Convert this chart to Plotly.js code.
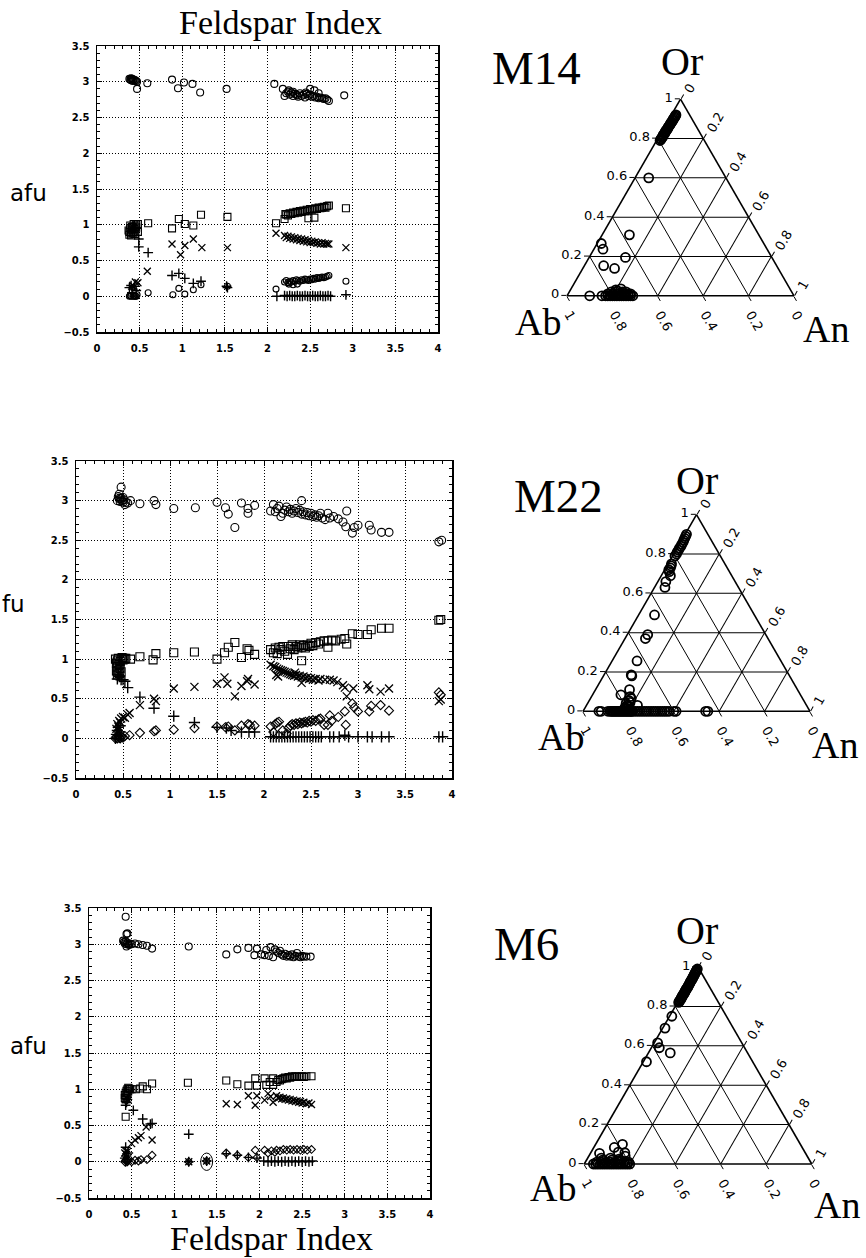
<!DOCTYPE html>
<html>
<head>
<meta charset="utf-8">
<script src="https://cdn.plot.ly/plotly-3.0.1.min.js"></script>
<style>html,body{margin:0;padding:0;background:#fff;}#chart{width:866px;height:1258px;}</style>
</head>
<body>
<div id="chart"></div>
<script>
// ---------------- DATA: Feldspar Index vs afu (pairs [feldsparIndex, afu]) ----------------
// Sample M14
const m14_si = [[0.38,3.04],[0.39,3.03],[0.40,3.05],[0.40,3.02],[0.41,3.04],[0.42,3.03],[0.42,3.01],[0.43,3.03],[0.44,3.02],[0.45,3.02],[0.46,3.01],[0.47,3.00],
 [0.47,2.90],[0.59,2.98],[0.88,3.03],[0.95,2.91],[1.02,2.99],[1.12,2.97],[1.21,2.85],[1.52,2.90],[2.08,2.97],[2.18,2.90],[2.20,2.80],[2.22,2.84],[2.24,2.86],[2.26,2.82],[2.28,2.85],[2.30,2.80],[2.32,2.83],[2.34,2.82],[2.36,2.79],[2.38,2.84],[2.40,2.80],[2.42,2.82],[2.44,2.78],[2.46,2.83],[2.48,2.80],[2.50,2.82],[2.52,2.79],[2.54,2.80],[2.56,2.78],[2.58,2.79],[2.60,2.77],[2.62,2.78],[2.64,2.77],[2.66,2.76],[2.68,2.77],[2.70,2.75],[2.72,2.73],[2.25,2.88],[2.30,2.86],[2.35,2.81],[2.45,2.85],[2.50,2.90],[2.55,2.88],[2.60,2.84],[2.90,2.81]];
const m14_al = [[0.37,0.92],[0.38,0.90],[0.39,0.95],[0.40,0.88],[0.41,0.93],[0.42,0.97],[0.43,0.90],[0.44,0.94],[0.45,0.98],[0.46,0.96],[0.38,0.86],[0.40,0.85],[0.42,0.88],[0.44,0.87],[0.46,1.00],[0.39,0.99],[0.41,0.97],[0.43,1.01],[0.45,0.92],[0.48,1.01],[0.48,0.90],
 [0.60,1.02],[0.88,0.95],[0.96,1.08],[1.03,1.01],[1.13,0.99],[1.22,1.14],[1.53,1.11],[2.10,1.02],[2.20,1.08],[2.21,1.15],[2.22,1.14],[2.24,1.13],[2.26,1.16],[2.28,1.15],[2.30,1.17],[2.32,1.16],[2.34,1.18],[2.36,1.17],[2.38,1.19],[2.40,1.18],[2.42,1.20],[2.44,1.19],[2.46,1.21],[2.48,1.20],[2.50,1.22],[2.52,1.21],[2.54,1.22],[2.56,1.23],[2.58,1.22],[2.60,1.24],[2.62,1.23],[2.64,1.24],[2.66,1.25],[2.68,1.24],[2.70,1.26],[2.72,1.27],[2.48,1.09],[2.55,1.10],[2.92,1.23]];
const m14_na = [[0.42,0.15],[0.45,0.20],[0.48,0.19],[0.59,0.35],[0.88,0.73],[0.98,0.58],[1.03,0.71],[1.13,0.80],[1.23,0.68],[1.53,0.68],[2.10,0.88],
 [2.20,0.85],[2.22,0.82],[2.24,0.84],[2.26,0.81],[2.28,0.83],[2.30,0.80],[2.32,0.82],[2.34,0.79],[2.36,0.81],[2.38,0.78],[2.40,0.80],[2.42,0.77],[2.44,0.79],[2.46,0.76],[2.48,0.78],[2.50,0.75],[2.52,0.77],[2.54,0.75],[2.56,0.76],[2.58,0.74],[2.60,0.75],[2.62,0.73],[2.64,0.75],[2.66,0.73],[2.68,0.74],[2.70,0.73],[2.72,0.73],[2.92,0.68]];
const m14_ca = [[0.38,0.12],[0.40,0.15],[0.42,0.10],[0.44,0.14],[0.46,0.08],[0.41,0.05],[0.49,0.80],[0.49,0.69],[0.60,0.61],[0.88,0.29],[0.96,0.32],[1.03,0.25],[1.13,0.18],[1.22,0.21],[1.52,0.14],[1.53,0.12],
 [2.11,0.00],[2.20,0.01],[2.23,0.00],[2.26,0.01],[2.29,0.00],[2.32,0.00],[2.35,0.01],[2.38,0.00],[2.41,0.00],[2.44,0.01],[2.47,0.00],[2.50,0.00],[2.53,0.01],[2.56,0.00],[2.59,0.00],[2.62,0.01],[2.65,0.00],[2.68,0.00],[2.71,0.01],[2.74,0.00],[2.92,0.02]];
const m14_k = [[0.38,0.00],[0.40,0.00],[0.42,0.00],[0.44,0.00],[0.46,0.00],[0.39,0.01],[0.43,0.01],[0.45,0.00],[0.47,0.02],[0.60,0.05],[0.89,0.02],[0.96,0.11],[1.03,0.03],[1.13,0.09],[1.22,0.16],[1.53,0.14],[2.10,0.10],
 [2.20,0.20],[2.22,0.22],[2.24,0.19],[2.26,0.21],[2.28,0.20],[2.30,0.22],[2.32,0.21],[2.34,0.23],[2.36,0.22],[2.38,0.21],[2.40,0.23],[2.42,0.22],[2.44,0.24],[2.46,0.23],[2.48,0.22],[2.50,0.24],[2.52,0.23],[2.54,0.25],[2.56,0.24],[2.58,0.26],[2.60,0.25],[2.62,0.26],[2.64,0.27],[2.66,0.26],[2.68,0.27],[2.70,0.28],[2.72,0.29],[2.25,0.17],[2.30,0.16],[2.35,0.17],[2.92,0.21]];

// Sample M22
const m22_si = [[0.48,3.17],[0.45,3.05],[0.46,3.08],[0.47,3.02],[0.44,3.00],[0.48,3.03],[0.49,3.00],[0.50,2.98],[0.51,3.01],[0.52,2.95],[0.53,2.98],[0.47,2.99],[0.46,3.03],[0.50,3.04],[0.55,2.97],
 [0.58,3.00],[0.68,2.96],[0.83,3.00],[0.85,2.95],[1.04,2.90],[1.27,2.91],[1.50,2.98],[1.59,2.91],[1.62,2.83],[1.69,2.66],[1.76,2.97],[1.83,2.90],[1.83,2.84],[1.90,2.94],
 [2.07,2.87],[2.10,2.95],[2.12,2.86],[2.14,2.90],[2.16,2.93],[2.18,2.80],[2.20,2.84],[2.22,2.88],[2.24,2.92],[2.26,2.86],[2.28,2.89],[2.30,2.84],[2.32,2.87],[2.34,2.90],[2.36,2.85],[2.38,2.88],[2.40,3.00],[2.40,2.83],[2.42,2.86],[2.44,2.82],[2.46,2.85],[2.48,2.81],[2.50,2.84],[2.52,2.80],[2.54,2.82],[2.56,2.79],[2.58,2.81],[2.60,2.84],[2.62,2.78],[2.65,2.76],[2.68,2.84],[2.70,2.78],[2.74,2.80],[2.79,2.77],[2.84,2.73],[2.87,2.67],[2.88,2.87],[2.94,2.59],[2.96,2.66],[3.00,2.69],[3.12,2.69],[3.14,2.63],[3.25,2.60],[3.33,2.60],[3.86,2.48],[3.89,2.50]];
const m22_al = [[0.42,1.00],[0.43,0.95],[0.44,0.98],[0.45,1.01],[0.46,0.93],[0.47,0.97],[0.48,1.00],[0.49,1.02],[0.50,0.99],[0.51,1.01],[0.52,1.00],[0.53,1.01],[0.44,0.90],[0.45,0.86],[0.46,0.82],[0.47,0.88],[0.43,0.85],[0.44,0.80],[0.48,0.84],[0.58,1.00],
 [0.68,1.03],[0.82,0.99],[0.85,1.07],[1.04,1.08],[1.26,1.09],[1.50,1.00],[1.58,1.08],[1.62,1.15],[1.69,1.21],[1.76,1.02],[1.82,1.13],[1.84,1.11],[1.90,1.06],
 [2.07,1.12],[2.10,1.08],[2.12,1.14],[2.14,1.07],[2.16,1.15],[2.18,1.12],[2.20,1.16],[2.22,1.10],[2.25,1.06],[2.26,1.16],[2.28,1.13],[2.30,1.18],[2.32,1.12],[2.34,1.16],[2.36,1.14],[2.38,1.18],[2.40,0.98],[2.40,1.15],[2.42,1.17],[2.44,1.14],[2.46,1.18],[2.48,1.16],[2.50,1.20],[2.52,1.17],[2.55,1.21],[2.58,1.19],[2.60,1.22],[2.64,1.23],[2.68,1.15],[2.68,1.23],[2.72,1.24],[2.76,1.23],[2.82,1.25],[2.86,1.26],[2.88,1.19],[2.94,1.32],[3.00,1.31],[3.10,1.31],[3.14,1.37],[3.25,1.39],[3.33,1.39],[3.86,1.49],[3.88,1.50]];
const m22_na = [[0.43,0.12],[0.44,0.18],[0.45,0.15],[0.46,0.22],[0.47,0.20],[0.48,0.25],[0.50,0.27],[0.52,0.26],[0.55,0.30],[0.57,0.32],[0.68,0.42],[0.83,0.50],[0.85,0.47],[1.04,0.63],[1.26,0.65],[1.50,0.69],[1.58,0.77],[1.61,0.69],[1.69,0.53],[1.76,0.66],[1.83,0.75],[1.82,0.72],[1.90,0.68],
 [2.07,0.93],[2.10,0.91],[2.12,0.90],[2.13,0.80],[2.14,0.88],[2.15,0.78],[2.16,0.87],[2.18,0.86],[2.20,0.85],[2.22,0.84],[2.24,0.83],[2.26,0.82],[2.28,0.81],[2.30,0.80],[2.32,0.79],[2.33,0.83],[2.34,0.80],[2.36,0.78],[2.38,0.79],[2.40,0.70],[2.40,0.77],[2.42,0.78],[2.44,0.76],[2.46,0.77],[2.48,0.75],[2.50,0.76],[2.52,0.74],[2.55,0.75],[2.58,0.73],[2.60,0.75],[2.65,0.74],[2.70,0.74],[2.74,0.73],[2.78,0.71],[2.84,0.67],[2.86,0.64],[2.88,0.53],[2.95,0.63],[3.10,0.67],[3.12,0.62],[3.24,0.59],[3.33,0.63],[3.86,0.47],[3.88,0.49]];
const m22_ca = [[0.42,0.00],[0.43,0.05],[0.44,0.10],[0.45,0.14],[0.46,0.08],[0.47,0.16],[0.48,0.03],[0.44,0.75],[0.45,0.80],[0.46,0.78],[0.48,0.74],[0.50,0.74],[0.52,0.72],[0.55,0.64],
 [0.68,0.52],[0.83,0.38],[1.04,0.28],[1.26,0.20],[1.50,0.14],[1.60,0.13],[1.65,0.10],[1.76,0.08],[1.84,0.08],[1.90,0.08],
 [2.07,0.02],[2.10,0.02],[2.13,0.02],[2.16,0.02],[2.19,0.02],[2.22,0.02],[2.25,0.02],[2.28,0.02],[2.31,0.02],[2.34,0.02],[2.37,0.02],[2.40,0.02],[2.43,0.02],[2.46,0.02],[2.49,0.02],[2.52,0.02],[2.55,0.02],[2.58,0.02],[2.61,0.02],[2.70,0.02],[2.74,0.02],[2.80,0.02],[2.86,0.04],[2.90,0.02],[3.00,0.02],[3.10,0.02],[3.15,0.02],[3.25,0.02],[3.33,0.02],[3.86,0.02],[3.90,0.02]];
const m22_k = [[0.42,0.00],[0.43,0.02],[0.44,0.00],[0.45,0.03],[0.46,0.01],[0.47,0.00],[0.48,0.02],[0.50,0.01],[0.52,0.03],[0.57,0.04],
 [0.68,0.07],[0.83,0.09],[0.85,0.10],[1.04,0.11],[1.26,0.13],[1.50,0.15],[1.59,0.14],[1.62,0.15],[1.69,0.10],[1.76,0.16],[1.83,0.18],[1.85,0.17],[1.90,0.16],
 [2.07,0.15],[2.10,0.08],[2.12,0.18],[2.14,0.20],[2.16,0.21],[2.20,0.10],[2.24,0.06],[2.26,0.13],[2.28,0.16],[2.30,0.18],[2.32,0.17],[2.34,0.19],[2.36,0.18],[2.38,0.20],[2.40,0.19],[2.42,0.20],[2.44,0.21],[2.46,0.20],[2.48,0.22],[2.50,0.21],[2.52,0.23],[2.55,0.22],[2.58,0.24],[2.60,0.25],[2.64,0.17],[2.68,0.17],[2.70,0.29],[2.72,0.22],[2.79,0.27],[2.86,0.34],[2.87,0.17],[2.94,0.44],[2.96,0.39],[3.00,0.34],[3.12,0.34],[3.14,0.41],[3.24,0.42],[3.33,0.35],[3.86,0.58],[3.88,0.55]];

// Sample M6
const m6_si = [[0.43,3.38],[0.44,3.14],[0.45,3.15],[0.40,3.05],[0.41,3.03],[0.42,3.01],[0.43,3.04],[0.44,3.00],[0.45,3.02],[0.46,3.00],[0.47,2.99],[0.48,3.01],[0.44,2.97],[0.50,3.00],[0.54,3.01],[0.58,3.00],[0.63,2.99],[0.68,2.98],[0.74,2.94],
 [1.17,2.97],[1.61,2.86],[1.74,2.93],[1.87,2.95],[1.94,2.85],[1.97,2.94],[2.02,2.86],[2.06,2.85],[2.08,2.92],[2.11,2.84],[2.13,2.96],[2.16,2.82],[2.18,2.93],[2.20,2.90],[2.22,2.88],[2.24,2.91],[2.26,2.86],[2.28,2.84],[2.30,2.87],[2.32,2.83],[2.34,2.85],[2.36,2.83],[2.38,2.86],[2.40,2.82],[2.42,2.84],[2.44,2.88],[2.46,2.83],[2.48,2.82],[2.50,2.84],[2.52,2.83],[2.55,2.83],[2.60,2.83]];
const m6_al = [[0.42,0.92],[0.43,0.95],[0.44,0.98],[0.45,1.00],[0.46,0.97],[0.47,1.01],[0.48,1.00],[0.42,0.88],[0.43,0.86],[0.44,0.90],[0.45,0.94],[0.46,1.02],[0.50,1.00],[0.43,0.62],[0.55,1.00],[0.60,1.01],[0.63,1.04],[0.68,1.00],[0.74,1.08],
 [1.16,1.09],[1.61,1.12],[1.74,1.07],[1.87,1.05],[1.95,1.15],[1.97,1.05],[2.06,1.15],[2.08,1.06],[2.12,1.10],[2.16,1.15],[2.16,1.06],[2.20,1.10],[2.22,1.13],[2.24,1.12],[2.26,1.14],[2.28,1.15],[2.30,1.16],[2.32,1.15],[2.34,1.17],[2.36,1.16],[2.38,1.18],[2.40,1.17],[2.42,1.18],[2.44,1.17],[2.46,1.18],[2.48,1.17],[2.50,1.18],[2.52,1.17],[2.55,1.18],[2.61,1.18]];
const m6_na = [[0.42,0.12],[0.43,0.15],[0.44,0.10],[0.45,0.14],[0.44,0.88],[0.46,0.85],[0.50,0.25],[0.54,0.30],[0.58,0.33],[0.61,0.36],[0.67,0.48],[0.74,0.30],[1.17,0.00],[1.38,0.01],
 [1.61,0.80],[1.74,0.79],[1.87,0.91],[1.95,0.78],[1.97,0.91],[2.06,0.85],[2.10,0.94],[2.13,0.90],[2.16,0.82],[2.20,0.91],[2.22,0.88],[2.24,0.89],[2.26,0.87],[2.28,0.88],[2.30,0.86],[2.32,0.87],[2.34,0.85],[2.36,0.86],[2.38,0.84],[2.40,0.85],[2.42,0.83],[2.44,0.84],[2.46,0.82],[2.48,0.83],[2.50,0.81],[2.52,0.82],[2.55,0.80],[2.58,0.81],[2.61,0.79]];
const m6_ca = [[0.42,0.05],[0.43,0.00],[0.44,0.08],[0.45,0.03],[0.46,0.12],[0.43,0.20],[0.43,0.78],[0.44,0.82],[0.45,0.86],[0.52,0.71],[0.63,0.59],[0.72,0.52],[0.74,0.53],[1.17,0.38],[1.17,0.00],[1.38,0.01],
 [1.61,0.11],[1.74,0.09],[1.87,0.06],[1.97,0.05],[2.05,0.01],[2.10,0.00],[2.14,0.01],[2.18,0.00],[2.22,0.01],[2.26,0.00],[2.30,0.01],[2.34,0.00],[2.38,0.01],[2.42,0.00],[2.46,0.01],[2.50,0.00],[2.54,0.01],[2.58,0.00],[2.62,0.01]];
const m6_k = [[0.42,0.00],[0.43,0.02],[0.44,0.01],[0.45,0.00],[0.46,0.02],[0.50,0.00],[0.54,0.02],[0.58,0.01],[0.61,0.03],[0.68,0.03],[0.74,0.09],[1.17,0.00],[1.38,0.01],
 [1.61,0.12],[1.74,0.09],[1.87,0.06],[1.95,0.16],[1.97,0.06],[2.06,0.16],[2.10,0.12],[2.14,0.15],[2.18,0.13],[2.20,0.16],[2.24,0.15],[2.28,0.17],[2.32,0.16],[2.36,0.17],[2.40,0.16],[2.44,0.17],[2.48,0.16],[2.52,0.17],[2.56,0.16],[2.61,0.17]];
const m6_highlight = [[1.38, 0.0]];   // hand-circled analysis

// ---------------- DATA: ternary Or-Ab-An (pairs [Or, An]; Ab = remainder) ----------------
const m14_tern = [[0.79,0.015],[0.795,0.016],[0.80,0.015],[0.805,0.017],[0.81,0.016],[0.815,0.016],[0.82,0.015],[0.825,0.017],[0.83,0.017],[0.835,0.016],[0.84,0.016],[0.845,0.018],[0.85,0.018],[0.855,0.017],[0.86,0.017],[0.865,0.018],[0.87,0.019],[0.875,0.018],[0.88,0.018],[0.885,0.019],[0.89,0.02],[0.895,0.019],[0.90,0.019],[0.905,0.02],[0.91,0.02],[0.915,0.02],[0.92,0.02],
 [0.60,0.06],[0.31,0.12],[0.266,0.018],[0.237,0.04],[0.195,0.16],[0.153,0.085],[0.139,0.14],[0.0,0.10],[0.0,0.154],
 [0.0,0.17],[0.01,0.175],[0.0,0.18],[0.02,0.185],[0.0,0.19],[0.01,0.195],[0.0,0.2],[0.02,0.205],[0.0,0.21],[0.01,0.215],[0.0,0.22],[0.01,0.225],[0.0,0.23],[0.02,0.235],[0.0,0.24],[0.01,0.245],[0.0,0.25],[0.01,0.255],[0.0,0.26],[0.01,0.265],[0.0,0.27],[0.01,0.275],[0.0,0.28],[0.0,0.29],[0.03,0.20],[0.035,0.22],[0.025,0.21],[0.02,0.25]];
const m22_tern = [[0.79,0.01],[0.80,0.012],[0.81,0.01],[0.82,0.011],[0.83,0.01],[0.84,0.012],[0.85,0.01],[0.86,0.011],[0.87,0.009],[0.88,0.008],[0.89,0.007],[0.90,0.006],
 [0.75,0.015],[0.74,0.018],[0.73,0.02],[0.72,0.018],[0.71,0.025],[0.69,0.04],[0.66,0.035],[0.63,0.046],[0.49,0.07],[0.39,0.09],[0.37,0.09],[0.256,0.11],[0.185,0.12],[0.18,0.125],[0.11,0.15],[0.084,0.125],
 [0.075,0.17],[0.065,0.18],[0.055,0.175],[0.045,0.185],[0.04,0.17],[0.03,0.18],[0.025,0.19],[0.02,0.175],[0.015,0.185],[0.01,0.18],[0.03,0.225],
 [0.0,0.07],[0.0,0.08],[0.0,0.11],[0.0,0.12],[0.0,0.125],[0.0,0.13],[0.0,0.135],[0.0,0.14],[0.0,0.145],[0.0,0.15],[0.0,0.155],[0.0,0.16],[0.0,0.165],[0.0,0.17],[0.0,0.175],[0.0,0.18],[0.0,0.185],[0.0,0.19],[0.0,0.195],[0.0,0.2],[0.0,0.205],[0.0,0.21],[0.0,0.215],[0.0,0.22],[0.0,0.23],[0.0,0.24],[0.0,0.25],[0.0,0.26],[0.0,0.27],[0.0,0.28],[0.0,0.29],[0.0,0.30],[0.0,0.31],[0.0,0.32],[0.0,0.33],[0.0,0.34],[0.0,0.35],[0.0,0.36],[0.0,0.37],[0.0,0.38],[0.0,0.40],[0.0,0.41],[0.0,0.54],[0.0,0.55]];
const m6_tern = [[0.82,0.005],[0.825,0.005],[0.83,0.005],[0.835,0.006],[0.84,0.006],[0.845,0.005],[0.85,0.005],[0.855,0.005],[0.86,0.005],[0.865,0.006],[0.87,0.006],[0.875,0.005],[0.88,0.005],[0.885,0.005],[0.89,0.005],[0.895,0.006],[0.90,0.006],[0.905,0.005],[0.91,0.005],[0.915,0.005],[0.92,0.005],[0.925,0.004],[0.93,0.004],[0.935,0.005],[0.94,0.005],[0.945,0.004],[0.95,0.004],[0.955,0.004],[0.96,0.004],[0.965,0.003],[0.97,0.003],[0.975,0.003],[0.98,0.003],[0.985,0.002],[0.99,0.002],
 [0.75,0.01],[0.69,0.01],[0.615,0.015],[0.59,0.035],[0.564,0.096],[0.519,0.014],
 [0.084,0.09],[0.10,0.118],[0.057,0.15],[0.054,0.04],[0.06,0.12],[0.04,0.16],
 [0.0,0.04],[0.01,0.05],[0.0,0.06],[0.02,0.07],[0.0,0.08],[0.01,0.09],[0.0,0.10],[0.02,0.11],[0.0,0.12],[0.01,0.13],[0.0,0.14],[0.02,0.15],[0.0,0.16],[0.01,0.17],[0.0,0.18],[0.01,0.19],[0.0,0.20],[0.03,0.06],[0.03,0.10],[0.025,0.14],[0.0,0.05],[0.0,0.07],[0.0,0.09],[0.0,0.11],[0.0,0.13],[0.0,0.15],[0.0,0.17],[0.0,0.19],[0.01,0.07],[0.01,0.11],[0.01,0.15]];

// ---------------- TEXT ----------------
const sampleNames = ['M14', 'M22', 'M6'];
const endMembers = {a: 'Or', b: 'Ab', c: 'An'};
const xTitle = 'Feldspar Index';

// ---------------- BUILD ----------------
const W = 866, H = 1258;
const px = v => v / W;
const py = v => 1 - v / H;

function markers(pairs, symbol, size, xa, ya, lw) {
  return {type: 'scatter', mode: 'markers', x: pairs.map(p => p[0]), y: pairs.map(p => p[1]),
    xaxis: xa, yaxis: ya, cliponaxis: false, hoverinfo: 'skip', showlegend: false,
    marker: {symbol: symbol, size: size, color: 'black', line: {color: 'black', width: lw || 1.1}}};
}
function ternPts(pairs, sub) {
  return {type: 'scatterternary', mode: 'markers', subplot: sub, a: pairs.map(p => p[0]), c: pairs.map(p => p[1]),
    b: pairs.map(p => 1 - p[0] - p[1]), cliponaxis: false, hoverinfo: 'skip', showlegend: false,
    marker: {symbol: 'circle-open', size: 9, color: 'black', line: {color: 'black', width: 1.8}}};
}

const panels = [
  {si: m14_si, al: m14_al, na: m14_na, ca: m14_ca, k: m14_k, kSym: 'circle-open', xa: 'x', ya: 'y', ms: 7},
  {si: m22_si, al: m22_al, na: m22_na, ca: m22_ca, k: m22_k, kSym: 'diamond-open', xa: 'x2', ya: 'y2', ms: 8},
  {si: m6_si, al: m6_al, na: m6_na, ca: m6_ca, k: m6_k, kSym: 'diamond-open', xa: 'x3', ya: 'y3', ms: 7}
];
const traces = [];
panels.forEach(p => {
  traces.push(markers(p.si, 'circle-open', p.ms, p.xa, p.ya));
  traces.push(markers(p.al, 'square-open', p.ms, p.xa, p.ya));
  traces.push(markers(p.na, 'x-thin-open', p.ms, p.xa, p.ya, 1.3));
  traces.push(markers(p.ca, 'cross-thin-open', p.ms, p.xa, p.ya, 1.4));
  traces.push(markers(p.k, p.kSym, p.ms - 1, p.xa, p.ya));
});
traces.push(ternPts(m14_tern, 'ternary'));
traces.push(ternPts(m22_tern, 'ternary2'));
traces.push(ternPts(m6_tern, 'ternary3'));

const tickFont = {family: 'DejaVu Sans, sans-serif', size: 10, color: 'black', weight: 'bold'};
function xax(domain, anchor) {
  return {domain: domain, anchor: anchor, range: [0, 4], tick0: 0, dtick: 0.5, showgrid: true, gridcolor: 'black',
    griddash: '1px,2px', gridwidth: 1, zeroline: false, showline: true, linecolor: 'black', linewidth: 1.5, mirror: 'ticks',
    ticks: 'inside', ticklen: 5, tickcolor: 'black', tickwidth: 1, tickfont: tickFont, ticklabelstandoff: 6,
    minor: {ticks: 'inside', ticklen: 3, dtick: 0.1, tickcolor: 'black', tickwidth: 1, showgrid: false}};
}
function yax(domain, anchor) {
  const a = xax(domain, anchor);
  a.range = [-0.5, 3.5];
  a.ticklabelstandoff = 4;
  return a;
}
function ternAxis(angle) {
  return {title: {text: ''}, min: 0, tick0: 0, dtick: 0.2, showline: true, linecolor: 'black', linewidth: 1.6,
    showgrid: true, gridcolor: 'black', gridwidth: 1, ticks: 'outside', ticklen: 5, tickcolor: 'black', tickwidth: 1,
    tickfont: {family: 'DejaVu Sans, sans-serif', size: 13, color: 'black'}, tickangle: angle, layer: 'below traces'};
}
function tern(x0, x1, yTop, yBot) {
  return {domain: {x: [px(x0), px(x1)], y: [py(yBot), py(yTop)]}, sum: 1, bgcolor: 'white',
    aaxis: ternAxis(0), baxis: ternAxis(60), caxis: ternAxis(-60)};
}

const serif = 'Liberation Serif, Times New Roman, serif';
function ann(text, x, y, size, family, xanchor) {
  return {text: text, x: px(x), y: py(y), xref: 'paper', yref: 'paper', showarrow: false,
    xanchor: xanchor || 'center', yanchor: 'middle', font: {family: family, size: size, color: 'black'}};
}
const sans = 'DejaVu Sans, sans-serif';
const annotations = [
  ann(xTitle, 280, 22, 34, serif),
  ann(xTitle, 271, 1238, 34, serif),
  ann('afu', 28, 193, 23, sans),
  ann('fu', 0, 604, 23, sans, 'left'),
  ann('afu', 28, 1046, 23, sans),
  ann(sampleNames[0], 536, 68, 47, serif),
  ann(sampleNames[1], 558, 496, 47, serif),
  ann(sampleNames[2], 526, 944, 47, serif),
  ann(endMembers.a, 682, 61, 40, serif), ann(endMembers.b, 538, 322, 38, serif), ann(endMembers.c, 826, 329, 38, serif),
  ann(endMembers.a, 697, 480, 40, serif), ann(endMembers.b, 561, 737, 38, serif), ann(endMembers.c, 835, 745, 38, serif),
  ann(endMembers.a, 697, 930, 40, serif), ann(endMembers.b, 553, 1188, 38, serif), ann(endMembers.c, 837, 1205, 38, serif)
];

const hl = m6_highlight[0];
const shapes = [{type: 'circle', xref: 'x3', yref: 'y3', x0: hl[0] - 0.07, x1: hl[0] + 0.07, y0: hl[1] - 0.12, y1: hl[1] + 0.12,
  line: {color: 'black', width: 1}}];

const layout = {
  width: W, height: H, margin: {l: 0, r: 0, t: 0, b: 0}, paper_bgcolor: 'white', plot_bgcolor: 'white', showlegend: false,
  xaxis: xax([px(97), px(438)], 'y'), yaxis: yax([py(332), py(46)], 'x'),
  xaxis2: xax([px(76), px(452)], 'y2'), yaxis2: yax([py(778), py(461)], 'x2'),
  xaxis3: xax([px(89), px(430)], 'y3'), yaxis3: yax([py(1198), py(908)], 'x3'),
  ternary: tern(567, 794, 99, 296),
  ternary2: tern(583, 810, 514, 712),
  ternary3: tern(583, 813, 967, 1164),
  annotations: annotations, shapes: shapes
};
Plotly.newPlot('chart', traces, layout, {staticPlot: true});
</script>
</body>
</html>
